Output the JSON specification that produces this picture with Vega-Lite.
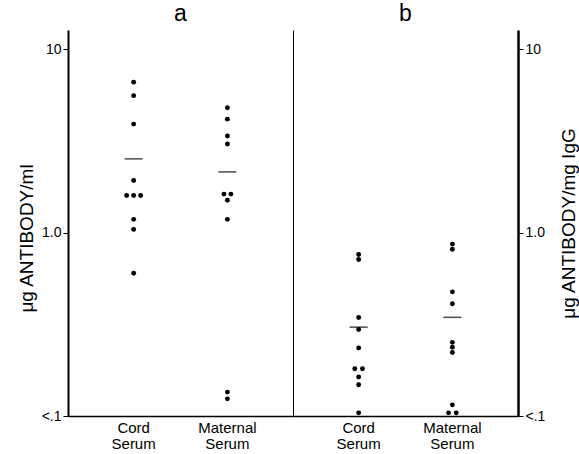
{
  "$schema": "https://vega.github.io/schema/vega-lite/v6.json",
  "padding": {"left": 17, "right": 0, "top": 3, "bottom": 0},
  "background": "white",
  "config": {
    "font": "Liberation Sans",
    "view": {"stroke": null},
    "axis": {"labelColor": "black", "titleColor": "black", "domainColor": "black", "tickColor": "black", "grid": false, "titleFontWeight": "normal", "labelFontSize": 14, "titleFontSize": 19},
    "title": {"fontSize": 23, "fontWeight": "normal", "color": "black", "offset": 0},
    "concat": {"spacing": 0}
  },
  "datasets": {
    "points": [
      {"panel": "a", "serum": "Cord Serum", "value": 6.6, "col": 0},
      {"panel": "a", "serum": "Cord Serum", "value": 5.57, "col": 0},
      {"panel": "a", "serum": "Cord Serum", "value": 3.9, "col": 0},
      {"panel": "a", "serum": "Cord Serum", "value": 1.92, "col": 0},
      {"panel": "a", "serum": "Cord Serum", "value": 1.59, "col": -1},
      {"panel": "a", "serum": "Cord Serum", "value": 1.59, "col": 0},
      {"panel": "a", "serum": "Cord Serum", "value": 1.59, "col": 1},
      {"panel": "a", "serum": "Cord Serum", "value": 1.18, "col": 0},
      {"panel": "a", "serum": "Cord Serum", "value": 1.04, "col": 0},
      {"panel": "a", "serum": "Cord Serum", "value": 0.6, "col": 0},
      {"panel": "a", "serum": "Maternal Serum", "value": 4.79, "col": 0},
      {"panel": "a", "serum": "Maternal Serum", "value": 4.15, "col": 0},
      {"panel": "a", "serum": "Maternal Serum", "value": 3.36, "col": 0},
      {"panel": "a", "serum": "Maternal Serum", "value": 3.04, "col": 0},
      {"panel": "a", "serum": "Maternal Serum", "value": 1.62, "col": -0.5},
      {"panel": "a", "serum": "Maternal Serum", "value": 1.62, "col": 0.5},
      {"panel": "a", "serum": "Maternal Serum", "value": 1.5, "col": 0},
      {"panel": "a", "serum": "Maternal Serum", "value": 1.18, "col": 0},
      {"panel": "a", "serum": "Maternal Serum", "value": 0.135, "col": 0},
      {"panel": "a", "serum": "Maternal Serum", "value": 0.124, "col": 0},
      {"panel": "b", "serum": "Cord Serum", "value": 0.759, "col": 0},
      {"panel": "b", "serum": "Cord Serum", "value": 0.713, "col": 0},
      {"panel": "b", "serum": "Cord Serum", "value": 0.344, "col": 0},
      {"panel": "b", "serum": "Cord Serum", "value": 0.296, "col": 0},
      {"panel": "b", "serum": "Cord Serum", "value": 0.235, "col": 0},
      {"panel": "b", "serum": "Cord Serum", "value": 0.181, "col": -0.55},
      {"panel": "b", "serum": "Cord Serum", "value": 0.181, "col": 0.55},
      {"panel": "b", "serum": "Cord Serum", "value": 0.163, "col": 0},
      {"panel": "b", "serum": "Cord Serum", "value": 0.148, "col": 0},
      {"panel": "b", "serum": "Cord Serum", "value": 0.104, "col": 0},
      {"panel": "b", "serum": "Maternal Serum", "value": 0.865, "col": 0},
      {"panel": "b", "serum": "Maternal Serum", "value": 0.81, "col": 0},
      {"panel": "b", "serum": "Maternal Serum", "value": 0.475, "col": 0},
      {"panel": "b", "serum": "Maternal Serum", "value": 0.409, "col": 0},
      {"panel": "b", "serum": "Maternal Serum", "value": 0.252, "col": 0},
      {"panel": "b", "serum": "Maternal Serum", "value": 0.237, "col": 0},
      {"panel": "b", "serum": "Maternal Serum", "value": 0.222, "col": 0},
      {"panel": "b", "serum": "Maternal Serum", "value": 0.115, "col": 0},
      {"panel": "b", "serum": "Maternal Serum", "value": 0.104, "col": -0.55},
      {"panel": "b", "serum": "Maternal Serum", "value": 0.104, "col": 0.55}
    ],
    "means": [
      {"panel": "a", "serum": "Cord Serum", "value": 2.52},
      {"panel": "a", "serum": "Maternal Serum", "value": 2.14},
      {"panel": "b", "serum": "Cord Serum", "value": 0.305},
      {"panel": "b", "serum": "Maternal Serum", "value": 0.345}
    ]
  },
  "hconcat": [
    {
      "width": 225,
      "height": 386,
      "title": "a",
      "layer": [
        {
          "data": {"name": "points"},
          "transform": [{"filter": "datum.panel == 'a'"}],
          "mark": {"type": "circle", "size": 24, "opacity": 1, "color": "black"},
          "encoding": {
            "x": {"field": "serum", "type": "nominal", "sort": ["Cord Serum", "Maternal Serum"],
                  "scale": {"type": "band", "paddingInner": 0.8, "paddingOuter": 0.6},
                  "axis": {"title": null, "labelAngle": 0, "ticks": false, "domainWidth": 1.5, "labelFontSize": 15, "labelLineHeight": 16, "labelPadding": 4, "labelExpr": "split(datum.label, ' ')"}},
            "xOffset": {"field": "col", "type": "quantitative", "scale": {"domain": [-1, 1], "range": [2.4, 16.4]}},
            "y": {"field": "value", "type": "quantitative",
                  "scale": {"type": "log", "domain": [0.1, 12.7], "nice": false},
                  "axis": {"orient": "left", "values": [0.1, 1, 10], "labelExpr": "datum.value < 0.5 ? '<.1' : datum.value < 5 ? '1.0' : '10'", "tickSize": 5, "labelPadding": 2, "domainWidth": 2, "title": "μg ANTIBODY/ml", "titlePadding": 5, "titleY": 208}}
          }
        },
        {
          "data": {"name": "means"},
          "transform": [{"filter": "datum.panel == 'a'"}],
          "mark": {"type": "tick", "size": 18, "thickness": 1.5, "color": "black"},
          "encoding": {
            "x": {"field": "serum", "type": "nominal", "sort": ["Cord Serum", "Maternal Serum"]},
            "y": {"field": "value", "type": "quantitative",
                  "axis": {"orient": "right", "labels": false, "ticks": false, "title": null, "domainWidth": 1}}
          }
        }
      ],
      "resolve": {"axis": {"y": "independent"}}
    },
    {
      "width": 225,
      "height": 386,
      "title": "b",
      "layer": [
        {
          "data": {"name": "points"},
          "transform": [{"filter": "datum.panel == 'b'"}],
          "mark": {"type": "circle", "size": 24, "opacity": 1, "color": "black"},
          "encoding": {
            "x": {"field": "serum", "type": "nominal", "sort": ["Cord Serum", "Maternal Serum"],
                  "scale": {"type": "band", "paddingInner": 0.8, "paddingOuter": 0.6},
                  "axis": {"title": null, "labelAngle": 0, "ticks": false, "domainWidth": 1.5, "labelFontSize": 15, "labelLineHeight": 16, "labelPadding": 4, "labelExpr": "split(datum.label, ' ')"}},
            "xOffset": {"field": "col", "type": "quantitative", "scale": {"domain": [-1, 1], "range": [2.4, 16.4]}},
            "y": {"field": "value", "type": "quantitative",
                  "scale": {"type": "log", "domain": [0.1, 12.7], "nice": false},
                  "axis": {"orient": "right", "values": [0.1, 1, 10], "labelExpr": "datum.value < 0.5 ? '<.1' : datum.value < 5 ? '1.0' : '10'", "tickSize": 5, "labelPadding": 2, "domainWidth": 2.5, "title": "μg ANTIBODY/mg IgG", "titleAngle": -90, "titleBaseline": "top", "titlePadding": 15}}
          }
        },
        {
          "data": {"name": "means"},
          "transform": [{"filter": "datum.panel == 'b'"}],
          "mark": {"type": "tick", "size": 18, "thickness": 1.5, "color": "black"},
          "encoding": {
            "x": {"field": "serum", "type": "nominal", "sort": ["Cord Serum", "Maternal Serum"]},
            "y": {"field": "value", "type": "quantitative"}
          }
        }
      ]
    }
  ]
}
